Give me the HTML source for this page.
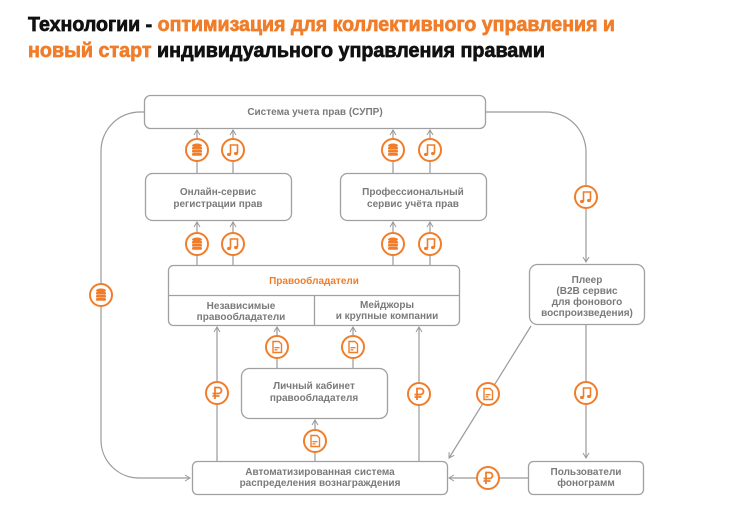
<!DOCTYPE html>
<html><head><meta charset="utf-8"><style>
html,body{margin:0;padding:0;background:#fff;width:730px;height:516px;overflow:hidden}
svg{display:block}
.t{font-family:"Liberation Sans","DejaVu Sans",sans-serif;font-weight:bold}
.n{font-family:"Liberation Sans","DejaVu Sans",sans-serif;font-weight:bold;font-size:10px;fill:#7a7a7a;text-anchor:middle}
</style></head><body>
<svg width="730" height="516" viewBox="0 0 730 516" xmlns="http://www.w3.org/2000/svg">
<defs>
<marker id="a" markerWidth="8" markerHeight="8" refX="6" refY="4" orient="auto" markerUnits="userSpaceOnUse">
<path d="M1,1 L6,4 L1,7" fill="none" stroke="#9a9a9a" stroke-width="1"/></marker>
<g id="c"><circle r="11" fill="#fff" stroke="#f07d2a" stroke-width="2"/></g>
<g id="db"><use href="#c"/><g fill="#f07d2a"><ellipse cx="0" cy="-4.5" rx="5" ry="2"/><rect x="-5" y="-3" width="10" height="2.6" rx="1"/><rect x="-5" y="0" width="10" height="2.6" rx="1"/><rect x="-5" y="3" width="10" height="2.8" rx="1.3"/></g></g>
<g id="mu"><use href="#c"/><g fill="none" stroke="#f07d2a" stroke-width="1.6"><path d="M-2.5,4 V-5 H4.5 V3"/></g><g fill="#f07d2a"><ellipse cx="-4" cy="4.5" rx="2" ry="1.6"/><ellipse cx="3" cy="3.5" rx="2" ry="1.6"/></g></g>
<g id="doc"><use href="#c"/><path d="M-4,-5.5 H2 L4.5,-3 V5.5 H-4 Z" fill="none" stroke="#f07d2a" stroke-width="1.4"/><rect x="-2.5" y="0" width="5" height="1.3" fill="#f07d2a"/><rect x="-2.5" y="2.2" width="3" height="1.3" fill="#f07d2a"/></g>
<g id="rub"><use href="#c"/><path d="M-2,6 V-5.5 H1.5 A3,3 0 0 1 1.5,0.5 H-4.5 M-4.5,3 H2.5" fill="none" stroke="#f07d2a" stroke-width="1.8"/></g>
</defs>

<text class="t" x="28" y="31" font-size="20" textLength="587" lengthAdjust="spacingAndGlyphs" stroke-width="0.7"><tspan fill="#111" stroke="#111">Технологии - </tspan><tspan fill="#f07d2a" stroke="#f07d2a">оптимизация для коллективного управления и</tspan></text>
<text class="t" x="28" y="57" font-size="20" textLength="517" lengthAdjust="spacingAndGlyphs" stroke-width="0.7"><tspan fill="#f07d2a" stroke="#f07d2a">новый старт </tspan><tspan fill="#111" stroke="#111">индивидуального управления правами</tspan></text>

<g fill="none" stroke="#9a9a9a" stroke-width="1.2">
<path d="M144,112 H140 A39,39 0 0 0 101,151 V440 A38,38 0 0 0 139,478 H190" marker-end="url(#a)"/>
<path d="M486,112 H546 A40,40 0 0 1 586,152 V262" marker-end="url(#a)"/>
<path d="M197,173 V130" marker-end="url(#a)"/><path d="M233,173 V130" marker-end="url(#a)"/>
<path d="M393,173 V130" marker-end="url(#a)"/><path d="M430,173 V130" marker-end="url(#a)"/>
<path d="M197,265 V222" marker-end="url(#a)"/><path d="M233,265 V222" marker-end="url(#a)"/>
<path d="M393,265 V222" marker-end="url(#a)"/><path d="M430,265 V222" marker-end="url(#a)"/>
<path d="M217,461 V327" marker-end="url(#a)"/><path d="M419,461 V327" marker-end="url(#a)"/>
<path d="M277,368 V327" marker-end="url(#a)"/><path d="M353,368 V327" marker-end="url(#a)"/>
<path d="M315,461 V420" marker-end="url(#a)"/>
<path d="M531,326 L449,458" marker-end="url(#a)"/>
<path d="M586,325 V458" marker-end="url(#a)"/>
<path d="M528,478 H449" marker-end="url(#a)"/>
</g>

<g fill="#fff" stroke="#a0a0a0" stroke-width="1.3">
<rect x="144.5" y="95.5" width="341" height="33" rx="6"/>
<rect x="145.5" y="173.5" width="146" height="47" rx="7"/>
<rect x="340.5" y="173.5" width="146" height="47" rx="7"/>
<rect x="168.5" y="265.5" width="291" height="60" rx="5"/>
<rect x="529.5" y="264.5" width="115" height="60" rx="8"/>
<rect x="241.5" y="368.5" width="146" height="50" rx="8"/>
<rect x="192.5" y="461.5" width="255" height="33" rx="5"/>
<rect x="528.5" y="461.5" width="115" height="33" rx="5"/>
</g>
<path d="M168.5,295.5 H459.5 M314.5,295.5 V325" stroke="#a0a0a0" stroke-width="1.3"/>

<text class="n" x="315" y="115">Система учета прав (СУПР)</text>
<text class="n" x="218" y="195">Онлайн-сервис</text><text class="n" x="218" y="207">регистрации прав</text>
<text class="n" x="413" y="195">Профессиональный</text><text class="n" x="413" y="207">сервис учёта прав</text>
<text class="n" x="314" y="284" style="fill:#f07d2a">Правообладатели</text>
<text class="n" x="241" y="309">Независимые</text><text class="n" x="241" y="320">правообладатели</text>
<text class="n" x="387" y="308">Мейджоры</text><text class="n" x="387" y="319">и крупные компании</text>
<text class="n" x="587" y="283">Плеер</text><text class="n" x="587" y="294">(B2B сервис</text><text class="n" x="587" y="305">для фонового</text><text class="n" x="587" y="316">воспроизведения)</text>
<text class="n" x="314" y="389">Личный кабинет</text><text class="n" x="314" y="401">правообладателя</text>
<text class="n" x="320" y="475">Автоматизированная система</text><text class="n" x="320" y="486">распределения вознаграждения</text>
<text class="n" x="586" y="475">Пользователи</text><text class="n" x="586" y="486">фонограмм</text>

<use href="#db" x="197" y="150"/><use href="#mu" x="233" y="150"/>
<use href="#db" x="393" y="150"/><use href="#mu" x="430" y="150"/>
<use href="#db" x="197" y="244"/><use href="#mu" x="233" y="244"/>
<use href="#db" x="393" y="244"/><use href="#mu" x="430" y="244"/>
<use href="#db" x="101" y="295"/>
<use href="#mu" x="586" y="197"/>
<use href="#doc" x="277" y="347"/><use href="#doc" x="353" y="347"/>
<use href="#rub" x="217" y="393"/><use href="#rub" x="419" y="394"/>
<use href="#doc" x="315" y="441"/>
<use href="#doc" x="488" y="394"/>
<use href="#mu" x="586" y="393"/>
<use href="#rub" x="488" y="478"/>
</svg>
</body></html>
